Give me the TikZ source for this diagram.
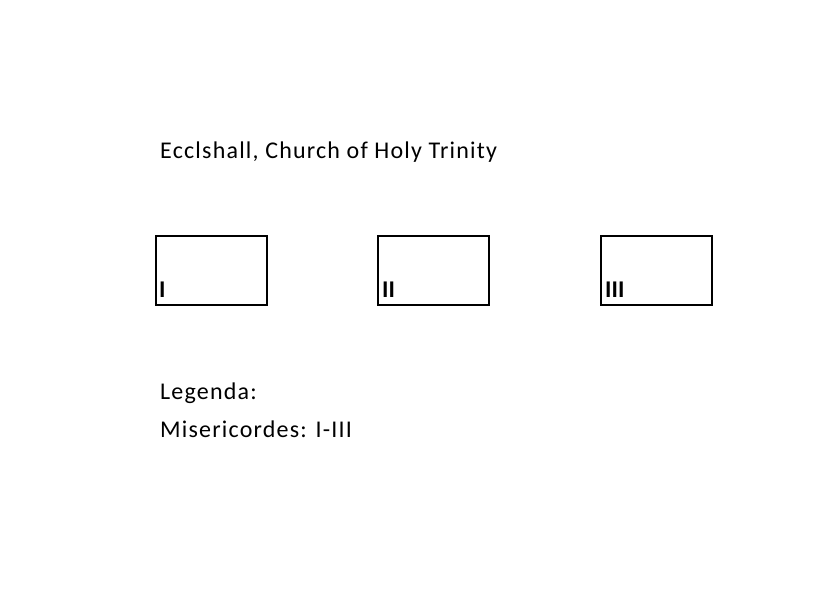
\documentclass[tikz,border=0pt]{standalone}
\usepackage{fontspec}
\setmainfont{Carlito}
\newfontfamily\widefont[LetterSpace=5]{Carlito}
\begin{document}
\begin{tikzpicture}[x=1pt,y=-1pt,
  seat/.style={draw=black, line width=1.6pt, minimum width=111pt, minimum height=69pt, inner sep=0pt, anchor=north west},
  lbl/.style={font=\fontsize{24}{28}\selectfont\bfseries, anchor=base west, inner sep=0pt},
  txt/.style={font=\widefont\fontsize{24}{28}\selectfont, anchor=base west, inner sep=0pt}]
\useasboundingbox (0,0) rectangle (827,591);
\node[txt] (title) at (160,158) {Ecclshall, Church of Holy Trinity};
\node[seat] (s1) at (155,235) {};
\node[seat] (s2) at (377,235) {};
\node[seat] (s3) at (600,235) {};
\node[lbl] (l1) at (159,297) {I};
\node[lbl] (l2) at (382,297) {II};
\node[lbl] (l3) at (605,297) {III};
\node[txt] (leg) at (160,399) {Legenda:};
\node[txt] (mis) at (160,437) {Misericordes: I-III};
\end{tikzpicture}
\end{document}
